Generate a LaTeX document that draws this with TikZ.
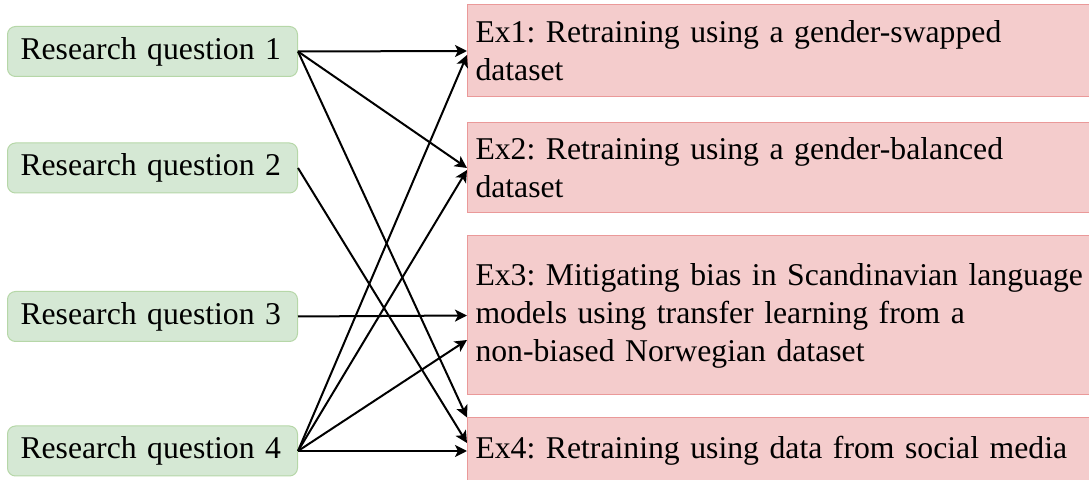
\documentclass[tikz,border=0pt]{standalone}
\usepackage{fontspec}
\setmainfont{Liberation Serif}
\newfontfamily\boxfont{Liberation Serif}
\frenchspacing
\usetikzlibrary{arrows.meta}
\definecolor{qfill}{HTML}{D5E8D4}
\definecolor{qline}{HTML}{B6D7A8}
\definecolor{efill}{HTML}{F4CCCC}
\definecolor{eline}{HTML}{EA9999}
\tikzset{
  question/.style={draw=qline, fill=qfill, line width=0.5pt, rounded corners=4pt,
    anchor=west, text width=132pt, align=left, inner xsep=6.5pt, inner ysep=0pt,
    minimum height=25pt, font=\boxfont\fontsize{15.85pt}{19pt}\selectfont},
  experiment/.style={draw=eline, fill=efill, line width=0.5pt,
    anchor=west, text width=320pt, align=left, inner xsep=4pt, inner ysep=0pt,
    font=\boxfont\fontsize{15.85pt}{19pt}\selectfont},
  link/.style={line width=1pt, -{Stealth[length=6pt,width=6pt,inset=1.5pt]}}
}
\begin{document}
\begin{tikzpicture}[x=0.5pt, y=-0.5pt]
\clip (0,0) rectangle (1089,480);
% research questions
\node[question] (rq1) at (7,51.5) {Research question 1};
\node[question] (rq2) at (7,168) {Research question 2};
\node[question] (rq3) at (7,316.5) {Research question 3};
\node[question] (rq4) at (7,451) {Research question 4};
% experiments
\node[experiment, minimum height=46pt] (ex1) at (467,51)
  {Ex1: Retraining using a gender-swapped\\dataset};
\node[experiment, minimum height=45pt] (ex2) at (467,168)
  {Ex2: Retraining using a gender-balanced\\dataset};
\node[experiment, minimum height=79.5pt] (ex3) at (467,315.5)
  {Ex3: Mitigating bias in Scandinavian language\\models using transfer learning from a\\non-biased Norwegian dataset};
\node[experiment, minimum height=33pt] (ex4) at (467,451)
  {Ex4: Retraining using data from social media};
% connections
\draw[link] (rq1.east) -- (ex1.west);
\draw[link] (rq1.east) -- (ex2.west);
\draw[link] (rq1.east) -- (ex4.north west);
\draw[link] (rq2.east) -- ([yshift=4pt]ex4.west);
\draw[link] (rq3.east) -- (ex3.west);
\draw[link] (rq4.east) -- ([yshift=-2pt]ex1.west);
\draw[link] (rq4.east) -- ([yshift=-1pt]ex2.west);
\draw[link] (rq4.east) -- ([yshift=-12.25pt]ex3.west);
\draw[link] (rq4.east) -- (ex4.west);
\end{tikzpicture}
\end{document}
